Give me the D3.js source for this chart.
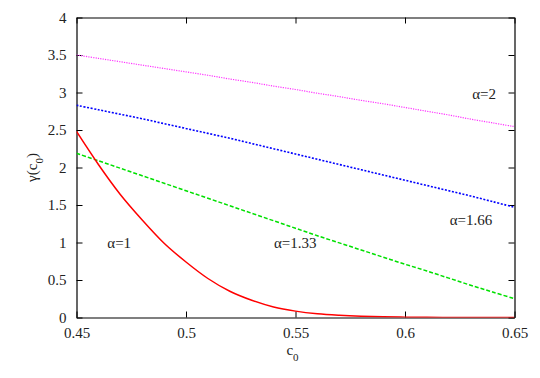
<!DOCTYPE html>
<html>
<head>
<meta charset="utf-8">
<script src="https://cdn.jsdelivr.net/npm/d3@7"></script>
<style>
  body { margin: 0; background: #fff; }
  text { font-family: "Liberation Serif", "Times New Roman", serif; fill: #222; }
</style>
</head>
<body>
<div class="chart"></div>
<script>
var cValues = [0.45, 0.46, 0.47, 0.48, 0.49, 0.50, 0.51, 0.52, 0.53, 0.54, 0.55,
               0.56, 0.57, 0.58, 0.59, 0.60, 0.61, 0.62, 0.63, 0.64, 0.65];

//gamma(c0) for each alpha
var gammaAlpha1 = [2.48, 2.04, 1.64, 1.30, 0.99, 0.74, 0.52, 0.35, 0.23, 0.14, 0.085,
                   0.05, 0.03, 0.017, 0.009, 0.005, 0.002, 0.001, 0, 0, 0];
var gammaAlpha133 = [2.19, 2.09, 1.99, 1.89, 1.79, 1.69, 1.59, 1.49, 1.39, 1.29, 1.19,
                     1.09, 0.995, 0.90, 0.805, 0.71, 0.62, 0.525, 0.43, 0.34, 0.25];
var gammaAlpha166 = [2.83, 2.77, 2.71, 2.65, 2.585, 2.52, 2.455, 2.39, 2.32, 2.25, 2.18,
                     2.11, 2.04, 1.97, 1.90, 1.83, 1.76, 1.69, 1.62, 1.545, 1.47];
var gammaAlpha2 = [3.50, 3.455, 3.41, 3.365, 3.32, 3.275, 3.23, 3.18, 3.135, 3.085, 3.04,
                   2.99, 2.945, 2.895, 2.85, 2.80, 2.75, 2.70, 2.645, 2.595, 2.545];

//tick labels
var xTicks = [0.45, 0.5, 0.55, 0.6, 0.65];
var yTicks = [0, 0.5, 1, 1.5, 2, 2.5, 3, 3.5, 4];

//curve labels and where they sit (in data units)
var labelNames = ["α=1", "α=1.33", "α=1.66", "α=2"];
var labelC = [0.4695, 0.5499, 0.6301, 0.6361];
var labelGamma = [0.927, 0.927, 1.227, 2.92];

var width = 540, height = 378;
//plot box edges (named so they don't clash with window.top)
var boxLeft = 76.5, boxRight = 514.5, boxTop = 17.5, boxBottom = 317.5;

var svg = d3.select(".chart").append("svg")
  .attr("width", width)
  .attr("height", height);

var x = d3.scaleLinear().domain([0.45, 0.65]).range([boxLeft, boxRight]);
var y = d3.scaleLinear().domain([0, 4]).range([boxBottom, boxTop]);

//clip so the curves stay in the box
svg.append("clipPath").attr("id", "plotclip")
  .append("rect")
  .attr("x", boxLeft).attr("y", boxTop)
  .attr("width", boxRight - boxLeft).attr("height", boxBottom - boxTop);

//axes, ticks point inward on all four sides
var tickLen = 6;
svg.append("g")
  .attr("transform", "translate(0," + boxBottom + ")")
  .call(d3.axisBottom(x).tickValues(xTicks).tickSize(-tickLen).tickSizeOuter(0).tickPadding(10)
    .tickFormat(function(d) { return d; }));
svg.append("g")
  .attr("transform", "translate(0," + boxTop + ")")
  .call(d3.axisTop(x).tickValues(xTicks).tickSize(-tickLen).tickSizeOuter(0).tickFormat(""));
svg.append("g")
  .attr("transform", "translate(" + boxLeft + ",0)")
  .call(d3.axisLeft(y).tickValues(yTicks).tickSize(-tickLen).tickSizeOuter(0).tickPadding(10)
    .tickFormat(function(d) { return d; }));
svg.append("g")
  .attr("transform", "translate(" + boxRight + ",0)")
  .call(d3.axisRight(y).tickValues(yTicks).tickSize(-tickLen).tickSizeOuter(0).tickFormat(""));

svg.selectAll(".domain").attr("stroke", "#000").attr("stroke-width", 1.2);
svg.selectAll(".tick line").attr("stroke", "#000");
svg.selectAll(".tick text").style("font-size", "15px").attr("fill", "#222");

//the curves, alpha=1 keeps monotone so its tail stays flat at zero
var smoothLine = d3.line()
  .x(function(d) { return x(d[0]); })
  .y(function(d) { return y(d[1]); })
  .curve(d3.curveCatmullRom);
var monoLine = d3.line()
  .x(function(d) { return x(d[0]); })
  .y(function(d) { return y(d[1]); })
  .curve(d3.curveMonotoneX);

var series = [
  { values: gammaAlpha2, color: "#ff33ff", dash: "1.2,1.2", w: 1.2, gen: smoothLine },
  { values: gammaAlpha166, color: "#0000ff", dash: "2,1.6", w: 1.6, gen: smoothLine },
  { values: gammaAlpha133, color: "#00e000", dash: "4,2", w: 1.5, gen: smoothLine },
  { values: gammaAlpha1, color: "#ff0000", dash: null, w: 1.5, gen: monoLine }
];

series.forEach(function(s) {
  var pts = cValues.map(function(c, i) { return [c, s.values[i]]; });
  svg.append("path")
    .attr("clip-path", "url(#plotclip)")
    .attr("d", s.gen(pts))
    .attr("fill", "none")
    .attr("stroke", s.color)
    .attr("stroke-width", s.w)
    .attr("stroke-dasharray", s.dash);
});

//curve labels
labelNames.forEach(function(name, i) {
  svg.append("text")
    .attr("x", x(labelC[i]))
    .attr("y", y(labelGamma[i]))
    .attr("text-anchor", "middle")
    .style("font-size", "15px")
    .text(name);
});

//axis titles
var xTitle = svg.append("text")
  .attr("x", (boxLeft + boxRight) / 2 - 3)
  .attr("y", 355)
  .attr("text-anchor", "middle")
  .style("font-size", "15px");
xTitle.append("tspan").text("c");
xTitle.append("tspan").attr("dy", 6).style("font-size", "11px").text("0");

var yTitle = svg.append("text")
  .attr("transform", "translate(37," + ((boxTop + boxBottom) / 2) + ") rotate(-90)")
  .attr("text-anchor", "middle")
  .style("font-size", "15px");
yTitle.append("tspan").text("γ(c");
yTitle.append("tspan").attr("dy", 6).style("font-size", "11px").text("0");
yTitle.append("tspan").attr("dy", -6).text(")");
</script>
</body>
</html>
